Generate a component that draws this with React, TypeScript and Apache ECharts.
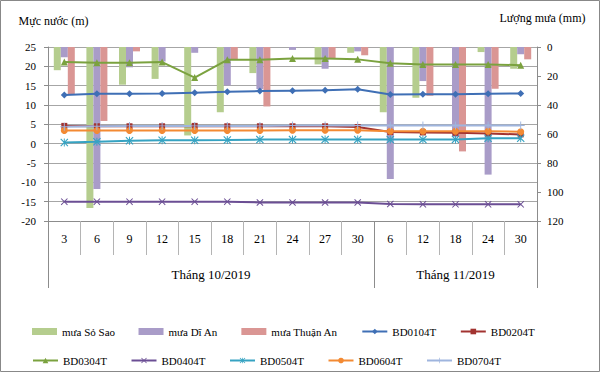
import React, { useEffect, useRef } from "react";
import * as echarts from "echarts";

const days = ["3", "6", "9", "12", "15", "18", "21", "24", "27", "30", "6", "12", "18", "24", "30"];
const months = ["Tháng 10/2019", "Tháng 11/2019"];
const monthSpans = [10, 5];

const rainNames = ["mưa Sỏ Sao", "mưa Dĩ An", "mưa Thuận An"];
const rainSoSao = [16, 111, 26, 22, 61, 45, 18, 0, 12, 4, 45, 35, 0, 3.5, 15];
const rainDiAn = [7, 98, 14, 10, 4, 26.5, 29, 2, 15, 3, 91, 23.5, 62, 88, 5];
const rainThuanAn = [32.5, 51, 3, 0, 0, 8.5, 41, 0, 8, 5.7, 0, 33.6, 72, 28.8, 8.5];

const wellNames = ["BD0104T", "BD0204T", "BD0304T", "BD0404T", "BD0504T", "BD0604T", "BD0704T"];
const bd0104 = [12.6, 12.9, 12.9, 13.0, 13.2, 13.4, 13.6, 13.7, 13.8, 14.1, 12.7, 12.8, 12.8, 12.9, 13.0];
const bd0204 = [4.6, 4.5, 4.5, 4.5, 4.6, 4.5, 4.5, 4.5, 4.5, 4.3, 3.0, 2.9, 2.8, 2.6, 2.4];
const bd0304 = [21.1, 20.9, 20.9, 21.1, 17.1, 21.7, 21.7, 22.0, 22.0, 21.8, 20.8, 20.5, 20.5, 20.5, 20.3];
const bd0404 = [-15.0, -15.0, -15.0, -15.0, -15.0, -15.0, -15.2, -15.2, -15.2, -15.2, -15.6, -15.7, -15.7, -15.7, -15.7];
const bd0504 = [0.3, 0.5, 0.75, 0.9, 0.9, 0.95, 1.05, 1.05, 1.05, 1.05, 1.05, 1.05, 1.1, 1.4, 1.4];
const bd0604 = [3.4, 3.4, 3.4, 3.4, 3.4, 3.4, 3.4, 3.45, 3.45, 3.45, 3.2, 3.2, 3.2, 3.2, 3.1];
const bd0704 = [4.4, 4.5, 4.6, 4.6, 4.6, 4.6, 4.6, 4.7, 4.7, 4.7, 4.7, 4.7, 4.7, 4.7, 4.7];

const FONT = "Times New Roman, Liberation Serif, serif";

const X_PATH = "path://M0,1 L1,0 L5,4 L9,0 L10,1 L6,5 L10,9 L9,10 L5,6 L1,10 L0,9 L4,5 Z";
const PLUS_PATH = "path://M4.4,0 L5.6,0 L5.6,4.4 L10,4.4 L10,5.6 L5.6,5.6 L5.6,10 L4.4,10 L4.4,5.6 L0,5.6 L0,4.4 L4.4,4.4 Z";
const STAR_PATH = "path://M0,1 L1,0 L5,4 L9,0 L10,1 L6,5 L10,9 L9,10 L5,6 L1,10 L0,9 L4,5 Z M4.4,0 L5.6,0 L5.6,10 L4.4,10 Z";

export default function App() {
  const ref = useRef<HTMLDivElement>(null);

  useEffect(() => {
    if (!ref.current) return;
    const chart = echarts.init(ref.current, null, { renderer: "svg" });

    const bounds: number[] = [0];
    const centers: number[] = [];
    monthSpans.forEach((s) => {
      const start = bounds[bounds.length - 1];
      centers.push(start + s / 2);
      bounds.push(start + s);
    });
    const total = bounds[bounds.length - 1];

    const rainData = [rainSoSao, rainDiAn, rainThuanAn];
    const rainColors = ["#b5cd8e", "#a99cc8", "#da9694"];
    const wellData = [bd0104, bd0204, bd0304, bd0404, bd0504, bd0604, bd0704];
    const wellColors = ["#3f6fb5", "#a23330", "#7ba23f", "#6b4e94", "#36a3c2", "#f38a33", "#9fb5de"];
    const wellSymbols = ["diamond", "rect", "triangle", X_PATH, STAR_PATH, "circle", PLUS_PATH];
    const wellSymbolSizes = [7, 6, 7, 7, 8, 7, 8];

    const series: any[] = [];
    rainData.forEach((d, i) => {
      series.push({
        name: rainNames[i],
        type: "bar",
        xAxisIndex: 0,
        yAxisIndex: 1,
        data: d,
        barWidth: 7,
        barGap: "0%",
        itemStyle: { color: rainColors[i] },
      });
    });
    wellData.forEach((d, i) => {
      series.push({
        name: wellNames[i],
        type: "line",
        xAxisIndex: 0,
        yAxisIndex: 0,
        data: d,
        symbol: wellSymbols[i],
        symbolSize: wellSymbolSizes[i],
        lineStyle: { color: wellColors[i], width: 2 },
        itemStyle: { color: wellColors[i] },
      });
    });

    const legendCommon = {
      orient: "horizontal",
      left: 27,
      itemWidth: 25,
      itemHeight: 7,
      itemGap: 23.5,
      textStyle: { fontFamily: FONT, fontSize: 11, color: "#000", width: 60 },
    };
    const allNames = [...rainNames, ...wellNames];
    const toLegendItem = (n: string) => (rainNames.includes(n) ? { name: n, icon: "rect" } : { name: n });

    const gray = "#8c8c8c";

    chart.setOption({
      animation: false,
      backgroundColor: "#fff",
      textStyle: { fontFamily: FONT },
      grid: { left: 48, right: 63, top: 47, bottom: 151, outerBoundsMode: "none" },
      legend: [
        { ...legendCommon, top: 321, data: allNames.slice(0, 5).map(toLegendItem) },
        { ...legendCommon, top: 350, data: allNames.slice(5).map(toLegendItem) },
      ],
      xAxis: [
        {
          type: "category",
          data: days,
          boundaryGap: true,
          position: "bottom",
          axisLine: { show: true, onZero: false, lineStyle: { color: gray } },
          axisTick: { show: true, interval: 0, length: 34, lineStyle: { color: "#b4b4b4" } },
          axisLabel: { interval: 0, margin: 12, fontFamily: FONT, fontSize: 12, color: "#000" },
          splitLine: { show: false },
        },
        {
          type: "value",
          min: 0,
          max: total,
          position: "bottom",
          axisLine: { show: false, onZero: false },
          axisTick: { show: true, customValues: bounds, length: 67, lineStyle: { color: gray } },
          axisLabel: {
            show: true,
            customValues: centers,
            margin: 47,
            fontFamily: FONT,
            fontSize: 13,
            color: "#000",
            formatter: (v: number) => {
              const idx = centers.indexOf(v);
              return idx >= 0 ? months[idx] : "";
            },
          },
          splitLine: { show: false },
        },
      ],
      yAxis: [
        {
          type: "value",
          min: -20,
          max: 25,
          interval: 5,
          position: "left",
          name: "Mực nước (m)",
          nameLocation: "end",
          nameGap: 20,
          nameTextStyle: { fontFamily: FONT, fontSize: 12, color: "#000", align: "center", padding: [0, 0, 0, 11] },
          axisLine: { show: true, onZero: false, lineStyle: { color: gray } },
          axisTick: { show: true, length: 4, lineStyle: { color: gray } },
          axisLabel: { margin: 12, fontFamily: FONT, fontSize: 11, color: "#000" },
          splitLine: { show: true, lineStyle: { color: "#a6a6a6", width: 1 } },
        },
        {
          type: "value",
          min: 0,
          max: 120,
          interval: 20,
          inverse: true,
          position: "right",
          name: "Lượng mưa (mm)",
          nameLocation: "start",
          nameGap: 23,
          nameTextStyle: { fontFamily: FONT, fontSize: 12, color: "#000", align: "center", padding: [0, 0, 0, 11] },
          axisLine: { show: true, onZero: false, lineStyle: { color: gray } },
          axisTick: { show: true, length: 4, lineStyle: { color: gray } },
          axisLabel: { margin: 10, fontFamily: FONT, fontSize: 11, color: "#000" },
          splitLine: { show: false },
        },
      ],
      graphic: [
        {
          type: "rect",
          shape: { x: 0.5, y: 0.5, width: 599, height: 371 },
          style: { fill: "none", stroke: "#888", lineWidth: 1 },
          silent: true,
        },
      ],
      series,
    });

    return () => chart.dispose();
  }, []);

  return (
    <div
      ref={ref}
      style={{ position: "fixed", left: 0, top: 0, width: 600, height: 372, background: "#fff" }}
    />
  );
}
